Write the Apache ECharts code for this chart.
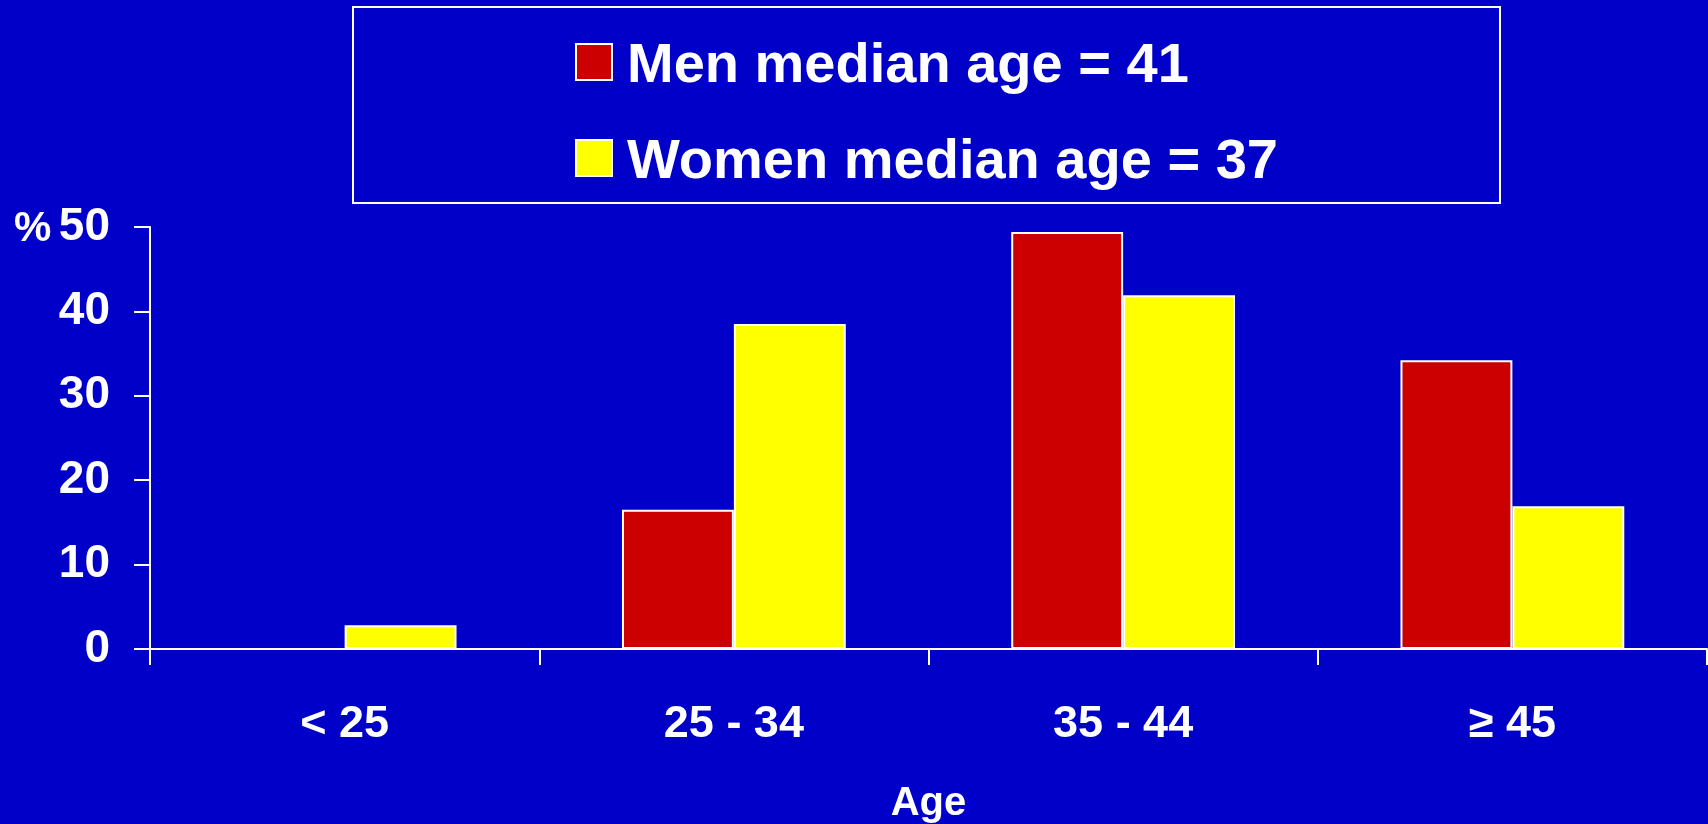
<!DOCTYPE html>
<html>
<head>
<meta charset="utf-8">
<script src="https://cdn.jsdelivr.net/npm/echarts@6/dist/echarts.min.js"></script>
<style>
html,body{margin:0;padding:0;background:#0000C8;}
#chart{width:1708px;height:824px;}
</style>
</head>
<body>
<div id="chart"></div>
<script>
const categories = ['< 25', '25 - 34', '35 - 44', '\u2265 45'];
const menValues = [0, 16.5, 49.4, 34.2];
const womenValues = [2.8, 38.5, 41.9, 16.9];
const seriesNames = ['Men median age = 41', 'Women median age = 37'];
const yTicks = { min: 0, max: 50, interval: 10 };

const FONT = '"Liberation Sans", Arial, Helvetica, sans-serif';
const chart = echarts.init(document.getElementById('chart'), null, { renderer: 'canvas' });

chart.setOption({
  backgroundColor: '#0000C8',
  animation: false,
  textStyle: { fontFamily: FONT },
  grid: { left: 150, right: 1, top: 227, bottom: 175, containLabel: false, outerBoundsMode: 'none' },
  legend: {
    orient: 'vertical',
    left: 570,
    top: 34,
    itemWidth: 36,
    itemHeight: 46,
    itemGap: 40,
    icon: 'path://M0,0L36,0L36,36L0,36Z M0,46L0,46',
    selectedMode: false,
    textStyle: {
      color: '#ffffff',
      fontSize: 56,
      fontWeight: 'bold',
      fontFamily: FONT,
      padding: [0, 0, 0, 10]
    },
    data: seriesNames
  },
  graphic: [
    {
      type: 'rect',
      shape: { x: 353, y: 7, width: 1147, height: 196 },
      style: { fill: 'none', stroke: '#ffffff', lineWidth: 2 },
      silent: true
    },
    {
      type: 'text',
      left: 14,
      top: 208,
      style: {
        text: '%',
        fill: '#ffffff',
        font: 'bold 42px ' + FONT
      },
      silent: true
    }
  ],
  xAxis: {
    type: 'category',
    data: categories,
    boundaryGap: true,
    name: 'Age',
    nameLocation: 'middle',
    nameGap: 135,
    nameTextStyle: { color: '#ffffff', fontSize: 40, fontWeight: 'bold', fontFamily: FONT },
    axisLine: { lineStyle: { color: '#ffffff', width: 2 } },
    axisTick: { show: true, length: 16, interval: 0, alignWithLabel: false, lineStyle: { color: '#ffffff', width: 2 } },
    axisLabel: { color: '#ffffff', fontSize: 45, fontWeight: 'bold', margin: 53, interval: 0, fontFamily: FONT },
    splitLine: { show: false }
  },
  yAxis: {
    type: 'value',
    min: yTicks.min,
    max: yTicks.max,
    interval: yTicks.interval,
    axisLine: { show: true, lineStyle: { color: '#ffffff', width: 2 } },
    axisTick: { show: true, length: 16, inside: false, lineStyle: { color: '#ffffff', width: 2 } },
    axisLabel: { color: '#ffffff', fontSize: 46, fontWeight: 'bold', margin: 40, fontFamily: FONT },
    splitLine: { show: false }
  },
  series: [
    {
      name: seriesNames[0],
      type: 'bar',
      data: menValues,
      barGap: '0%',
      barCategoryGap: '42.5%',
      itemStyle: { color: '#CC0000', borderColor: '#ffffff', borderWidth: 2 }
    },
    {
      name: seriesNames[1],
      type: 'bar',
      data: womenValues,
      barGap: '0%',
      barCategoryGap: '42.5%',
      itemStyle: { color: '#FFFF00', borderColor: '#ffffff', borderWidth: 2 }
    }
  ]
});
</script>
</body>
</html>
